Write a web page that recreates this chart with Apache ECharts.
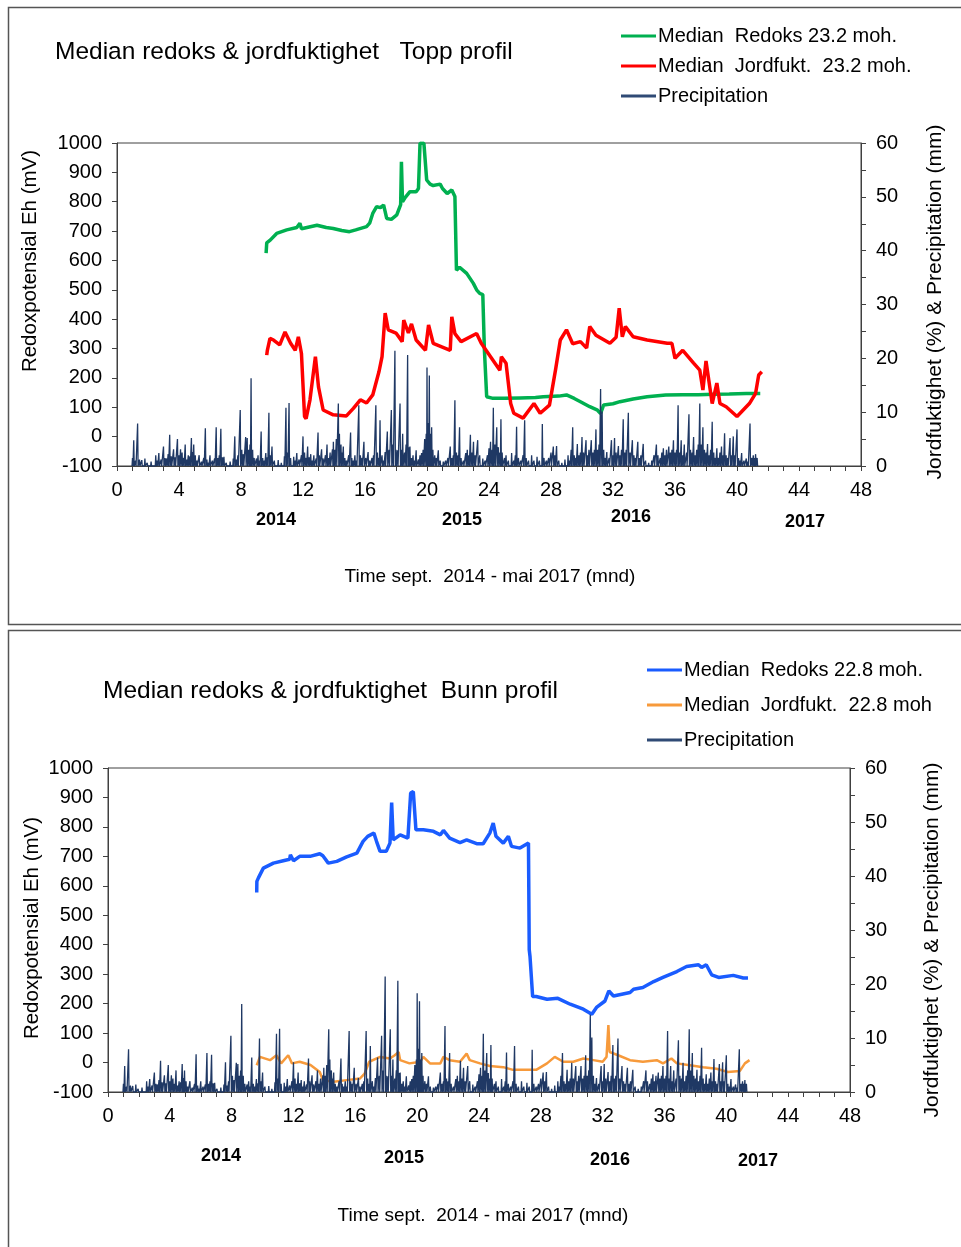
<!DOCTYPE html>
<html>
<head>
<meta charset="utf-8">
<script src="https://cdn.jsdelivr.net/npm/echarts@6/dist/echarts.min.js"></script>
<style>html,body{margin:0;padding:0;background:#fff}#c{width:961px;height:1247px}</style>
</head>
<body>
<div id="c"></div>
<script>
// ---- data (month, value) ----
const xTicks = [0,4,8,12,16,20,24,28,32,36,40,44,48];
const yearLabels = ['2014','2015','2016','2017'];

// Top profile: median redox (mV)
const redoxTop = [[9.62,625],[9.66,660],[9.9,670],[10.3,692],[10.95,704],[11.6,712],[11.8,727],[11.9,708],[12.0,712],[12.9,720],[13.5,712],[13.95,709],[14.5,702],[15.0,698],[15.4,704],[16.1,715],[16.3,727],[16.5,760],[16.75,783],[17.0,780],[17.2,789],[17.4,743],[17.7,740],[18.05,755],[18.3,790],[18.35,936],[18.42,800],[18.6,815],[18.9,834],[19.3,834],[19.45,845],[19.55,999],[19.8,999],[19.98,874],[20.2,860],[20.4,855],[20.85,860],[21.0,845],[21.3,828],[21.6,840],[21.8,818],[21.9,567],[22.1,577],[22.56,556],[22.99,522],[23.2,500],[23.4,488],[23.6,484],[23.7,300],[23.85,136],[24.2,131],[25.0,131],[26.0,132],[27.0,133],[27.5,136],[28.5,138],[29.0,142],[29.5,130],[29.9,119],[30.5,102],[31.0,90],[31.2,79],[31.4,108],[32.0,112],[32.45,119],[33.3,128],[34.2,136],[35.4,142],[36.5,143],[37.5,143],[38.5,144],[39.5,145],[40.6,147],[41.5,147]];
// Top profile: median soil moisture (%)
const moistTop = [[9.66,20.6],[9.7,21.5],[9.87,23.7],[10.1,23.4],[10.5,22.5],[10.84,24.9],[11.2,22.8],[11.5,21.5],[11.7,24.0],[11.9,20.9],[12.1,9.2],[12.2,8.8],[12.45,12.3],[12.8,20.3],[13.0,14.7],[13.3,10.4],[13.95,9.5],[14.8,9.3],[15.25,10.7],[15.7,12.3],[16.1,11.7],[16.5,13.2],[16.9,17.5],[17.1,20.3],[17.3,28.4],[17.5,25.3],[18.0,24.7],[18.4,23.1],[18.5,27.1],[18.8,24.7],[19.0,26.4],[19.3,23.4],[19.9,21.5],[20.1,26.2],[20.4,22.8],[21.5,21.5],[21.6,27.7],[21.8,24.6],[22.2,23.1],[23.2,24.6],[23.5,22.8],[24.1,20.3],[24.7,17.8],[24.8,20.3],[25.1,19.1],[25.4,11.6],[25.6,9.8],[26.2,8.9],[26.9,11.6],[27.3,9.8],[27.9,11.3],[28.3,18.0],[28.6,23.4],[29.0,25.3],[29.4,22.7],[29.9,23.1],[30.3,21.9],[30.5,25.9],[30.9,24.3],[31.8,22.8],[32.2,23.9],[32.4,29.3],[32.6,24.0],[32.8,25.9],[33.3,24.0],[34.2,23.4],[35.5,22.8],[35.8,22.8],[36.0,20.0],[36.5,21.5],[37.2,19.1],[37.6,17.8],[37.8,14.1],[38.0,19.5],[38.4,11.6],[38.7,15.4],[38.9,11.6],[39.3,11.0],[40.0,9.2],[40.4,10.4],[40.8,11.6],[41.2,13.5],[41.4,16.9],[41.6,17.5]];
// Bottom profile: median redox (mV)
const redoxBot = [[9.62,577],[9.63,615],[9.73,627],[10.05,660],[10.7,677],[11.34,685],[11.75,690],[11.8,705],[12.0,685],[12.4,700],[13.07,700],[13.7,709],[13.9,702],[14.25,677],[14.8,683],[15.44,698],[16.1,711],[16.5,751],[16.8,768],[17.2,779],[17.37,751],[17.6,717],[18.0,717],[18.24,745],[18.35,883],[18.45,756],[18.9,773],[19.4,762],[19.58,915],[19.75,920],[19.92,790],[20.4,790],[21.05,785],[21.5,773],[21.7,788],[22.1,762],[22.77,747],[23.2,756],[23.85,743],[24.27,743],[24.7,779],[24.92,813],[25.1,768],[25.57,745],[25.9,768],[26.1,734],[26.65,728],[27.2,745],[27.25,383],[27.3,360],[27.47,224],[27.7,224],[28.4,215],[29.1,218],[29.9,198],[30.75,181],[31.3,164],[31.6,187],[32.15,209],[32.4,243],[32.7,226],[33.77,238],[34.0,249],[34.6,255],[35.3,275],[35.9,289],[36.8,309],[37.43,326],[38.2,332],[38.4,323],[38.7,332],[39.05,298],[39.5,289],[40.45,296],[41.1,287],[41.4,287]];
// Bottom profile: median soil moisture (%)
const moistBot = [[9.62,4.95],[9.83,6.5],[10.48,5.9],[10.9,6.8],[11.2,5.3],[11.66,6.8],[11.9,5.3],[12.4,5.6],[13.1,5.0],[13.7,3.7],[13.9,2.2],[14.6,1.9],[15.44,2.2],[16.3,2.5],[16.6,3.4],[16.9,5.6],[17.6,6.5],[18.24,6.2],[18.55,6.8],[18.8,7.4],[18.9,5.9],[19.5,5.3],[20.2,5.6],[20.4,6.5],[20.83,5.3],[21.5,5.3],[21.7,6.5],[22.1,5.9],[22.77,5.6],[23.2,7.1],[23.4,5.9],[24.06,5.3],[24.7,4.8],[25.57,4.6],[26.2,4.1],[27.7,4.1],[28.4,5.3],[28.9,6.5],[29.45,5.6],[30.1,5.6],[30.75,6.2],[31.4,5.9],[32.0,5.6],[32.25,6.5],[32.37,12.4],[32.45,7.4],[33.0,6.8],[33.77,5.9],[34.6,5.6],[35.5,5.9],[35.9,5.3],[36.45,6.2],[36.8,5.3],[37.65,4.95],[38.5,4.6],[39.37,4.3],[40.1,3.7],[40.88,3.9],[41.2,5.3],[41.5,5.9]];
// Precipitation (mm), daily spikes (month, mm)
const precip = [[1.0,1.5],[1.08,4.8],[1.2,1.0],[1.33,7.9],[1.45,1.2],[1.6,1.1],[1.8,1.4],[1.95,0.6],[2.2,0.8],[2.5,2.0],[2.6,1.0],[2.7,2.4],[2.85,1.2],[3.0,3.6],[3.1,1.5],[3.2,1.4],[3.3,2.2],[3.4,5.8],[3.5,1.8],[3.65,3.1],[3.75,1.6],[3.9,5.0],[4.0,2.0],[4.1,3.1],[4.2,2.5],[4.3,1.5],[4.4,4.0],[4.5,1.2],[4.6,2.0],[4.7,1.8],[4.8,5.2],[4.87,2.6],[4.95,4.0],[5.05,2.0],[5.15,1.0],[5.3,2.0],[5.45,0.8],[5.6,1.5],[5.7,7.0],[5.8,1.2],[5.9,0.6],[6.0,2.0],[6.15,1.0],[6.3,1.4],[6.4,7.2],[6.5,1.5],[6.6,2.0],[6.7,6.9],[6.8,1.6],[6.9,1.7],[7.05,0.6],[7.3,0.8],[7.5,1.4],[7.6,5.5],[7.7,1.2],[7.8,2.0],[7.95,10.4],[8.05,3.0],[8.15,2.2],[8.3,5.4],[8.4,5.2],[8.5,3.0],[8.58,4.0],[8.65,16.3],[8.75,3.0],[8.85,1.5],[9.0,1.4],[9.1,2.0],[9.2,1.0],[9.3,6.4],[9.4,1.5],[9.5,1.0],[9.6,2.4],[9.7,1.6],[9.8,9.9],[9.9,2.0],[10.0,3.6],[10.15,1.0],[10.4,1.1],[10.6,0.6],[10.8,1.8],[10.9,10.8],[11.0,2.5],[11.1,11.7],[11.2,1.5],[11.4,1.7],[11.5,1.0],[11.6,2.4],[11.75,1.2],[11.9,2.0],[12.0,5.5],[12.1,2.5],[12.2,1.5],[12.3,3.6],[12.4,1.6],[12.5,2.2],[12.6,1.0],[12.7,2.0],[12.85,1.4],[12.97,6.2],[13.05,2.0],[13.2,3.1],[13.3,1.4],[13.45,2.0],[13.55,4.0],[13.65,1.5],[13.75,2.5],[13.9,3.1],[13.96,4.5],[14.05,3.0],[14.15,5.0],[14.28,11.6],[14.35,6.0],[14.45,4.0],[14.5,2.5],[14.6,3.6],[14.7,1.5],[14.8,1.0],[14.95,2.0],[15.07,6.2],[15.15,1.5],[15.25,1.0],[15.35,2.0],[15.45,1.0],[15.6,11.3],[15.7,2.0],[15.8,1.5],[15.93,4.5],[16.05,1.5],[16.2,2.6],[16.3,1.0],[16.45,1.5],[16.55,2.0],[16.7,11.3],[16.8,2.5],[16.9,1.5],[16.97,8.5],[17.1,2.0],[17.2,1.0],[17.3,2.6],[17.44,6.4],[17.55,3.0],[17.7,10.4],[17.8,4.0],[17.93,21.4],[18.0,3.0],[18.1,2.9],[18.26,11.6],[18.35,3.0],[18.43,6.0],[18.55,2.5],[18.65,4.0],[18.75,20.6],[18.82,3.5],[18.9,3.6],[19.0,1.5],[19.1,2.0],[19.2,1.0],[19.3,2.9],[19.45,1.2],[19.55,2.0],[19.65,2.4],[19.75,3.0],[19.85,5.0],[19.95,6.0],[20.0,18.3],[20.08,8.0],[20.15,16.8],[20.22,6.0],[20.3,7.2],[20.38,3.0],[20.5,2.0],[20.6,1.5],[20.73,2.9],[20.85,1.0],[21.05,0.8],[21.2,1.0],[21.35,1.5],[21.5,3.6],[21.6,1.5],[21.7,2.0],[21.8,12.2],[21.9,2.5],[22.0,2.0],[22.1,7.2],[22.2,1.5],[22.35,1.0],[22.5,2.4],[22.6,3.0],[22.7,2.0],[22.8,5.8],[22.9,2.5],[23.0,4.5],[23.1,2.0],[23.27,4.8],[23.4,2.0],[23.6,1.4],[23.75,1.0],[23.9,2.0],[24.0,3.3],[24.1,4.5],[24.2,3.0],[24.28,10.8],[24.38,4.0],[24.5,7.2],[24.6,3.5],[24.7,2.5],[24.77,8.7],[24.85,2.5],[25.0,1.5],[25.1,2.0],[25.25,1.0],[25.46,2.4],[25.6,1.0],[25.7,2.0],[25.78,7.3],[25.9,1.5],[26.05,1.0],[26.2,2.0],[26.3,8.5],[26.4,1.5],[26.55,1.0],[26.75,2.0],[26.9,1.0],[27.1,1.7],[27.25,1.0],[27.44,7.8],[27.55,1.5],[27.7,1.0],[27.85,1.5],[28.0,2.5],[28.15,3.6],[28.25,2.0],[28.36,3.7],[28.5,1.0],[28.7,0.6],[28.9,1.2],[29.1,2.0],[29.2,1.0],[29.3,3.0],[29.4,7.2],[29.5,2.0],[29.6,1.5],[29.7,4.1],[29.8,2.0],[29.9,2.5],[30.0,5.4],[30.1,2.5],[30.26,4.8],[30.35,2.0],[30.45,3.0],[30.6,4.8],[30.7,2.5],[30.8,3.0],[30.9,6.8],[31.0,3.0],[31.1,4.0],[31.2,14.3],[31.3,10.1],[31.4,3.0],[31.5,1.5],[31.6,2.6],[31.75,1.5],[31.9,4.8],[32.0,2.0],[32.1,5.2],[32.2,2.5],[32.35,3.7],[32.45,2.0],[32.55,3.0],[32.66,8.7],[32.75,2.5],[32.85,3.0],[32.99,9.9],[33.1,2.5],[33.25,4.8],[33.35,2.0],[33.45,1.5],[33.6,4.5],[33.7,1.5],[33.8,2.0],[33.95,4.1],[34.1,1.0],[34.3,0.6],[34.5,1.0],[34.65,2.0],[34.8,4.0],[34.9,2.0],[35.05,1.5],[35.15,2.5],[35.25,3.3],[35.35,2.0],[35.45,3.0],[35.6,3.6],[35.7,2.5],[35.8,3.0],[35.9,4.8],[36.0,2.5],[36.1,3.0],[36.2,11.3],[36.3,2.5],[36.4,4.8],[36.5,2.0],[36.6,4.0],[36.75,2.5],[36.9,9.6],[37.0,3.0],[37.1,2.5],[37.2,5.4],[37.3,2.0],[37.4,3.0],[37.5,4.0],[37.6,11.6],[37.7,4.0],[37.8,7.2],[37.9,3.0],[38.0,2.5],[38.1,4.1],[38.2,2.0],[38.3,3.0],[38.4,8.2],[38.5,2.5],[38.6,1.5],[38.7,3.3],[38.8,1.5],[38.9,2.5],[39.0,3.6],[39.1,2.0],[39.2,6.1],[39.3,2.0],[39.4,1.5],[39.55,5.2],[39.65,2.0],[39.76,5.5],[39.85,2.0],[40.0,6.8],[40.1,1.5],[40.2,1.0],[40.3,2.4],[40.45,1.0],[40.6,1.4],[40.7,0.8],[40.84,7.9],[40.95,1.5],[41.05,2.0],[41.12,1.5],[41.2,2.2],[41.3,1.5]];

// each daily value is drawn as a narrow spike rising from the zero line
function spikes(arr){
  const out=[];
  arr.forEach(([m,v])=>{ out.push([m-0.03,0],[m,v],[m+0.03,0]); });
  return out;
}

const FF='"Liberation Sans", Arial, sans-serif';
const AX='#404040';
function xAxisFor(g){
  return {type:'value',gridIndex:g,min:0,max:48,interval:4,
    axisLine:{show:true,onZero:false,lineStyle:{color:AX,width:1}},
    axisTick:{show:true,inside:false,length:5,lineStyle:{color:AX}},
    minorTick:{show:true,splitNumber:4,length:5,lineStyle:{color:AX}},
    axisLabel:{color:'#000',fontSize:20,fontFamily:FF,margin:14,formatter:v=>String(v)},
    splitLine:{show:false},minorSplitLine:{show:false}};
}
function yLeft(g){
  return {type:'value',gridIndex:g,position:'left',min:-100,max:1000,interval:100,
    axisLine:{show:true,onZero:false,lineStyle:{color:AX,width:1}},
    axisTick:{show:true,inside:false,length:5,lineStyle:{color:AX}},
    axisLabel:{color:'#000',fontSize:20,fontFamily:FF,margin:15,formatter:v=>String(v)},
    splitLine:{show:false}};
}
function yRight(g){
  return {type:'value',gridIndex:g,position:'right',min:0,max:60,interval:10,
    axisLine:{show:true,onZero:false,lineStyle:{color:AX,width:1}},
    axisTick:{show:true,inside:false,length:5,lineStyle:{color:AX}},
    minorTick:{show:true,splitNumber:2,length:5,lineStyle:{color:AX}},
    axisLabel:{color:'#000',fontSize:20,fontFamily:FF,margin:15,formatter:v=>String(v)},
    splitLine:{show:false},minorSplitLine:{show:false}};
}
function lineSeries(name,data,xi,yi,color,width){
  return {type:'line',name,data,xAxisIndex:xi,yAxisIndex:yi,showSymbol:false,symbol:'none',
    lineStyle:{color,width},itemStyle:{color},smooth:false,animation:false};
}
function txt(text,x,y,size,opts){
  opts=opts||{};
  return {type:'text',x,y,rotation:opts.rot||0,silent:true,
    style:{text,font:(opts.bold?'bold ':'')+size+'px '+FF,fill:'#000',
      textAlign:opts.align||'center',textVerticalAlign:'middle'}};
}

const chart = echarts.init(document.getElementById('c'),null,{renderer:'canvas'});
chart.setOption({
  backgroundColor:'#fff',
  animation:false,
  grid:[
    {left:117,top:143,width:744,height:323,show:true,borderColor:AX,borderWidth:1,backgroundColor:'transparent',containLabel:false,outerBoundsMode:'none'},
    {left:108,top:768,width:742,height:324,show:true,borderColor:AX,borderWidth:1,backgroundColor:'transparent',containLabel:false,outerBoundsMode:'none'}
  ],
  xAxis:[xAxisFor(0),xAxisFor(1)],
  yAxis:[yLeft(0),yRight(0),yLeft(1),yRight(1)],
  legend:[
    {orient:'vertical',left:621,top:26,padding:0,itemGap:10,itemWidth:35,itemHeight:3,icon:'rect',
     selectedMode:false,textStyle:{fontSize:20,color:'#000',fontFamily:FF,padding:[0,0,0,-3]},
     data:['Median  Redoks 23.2 moh.','Median  Jordfukt.  23.2 moh.',{name:'Precipitation',itemStyle:{color:'#2f4a75'}}]},
    {orient:'vertical',left:647,top:660,padding:0,itemGap:15,itemWidth:35,itemHeight:3,icon:'rect',
     selectedMode:false,textStyle:{fontSize:20,color:'#000',fontFamily:FF,padding:[0,0,0,-3]},
     data:['Median  Redoks 22.8 moh.','Median  Jordfukt.  22.8 moh',{name:'Precipitation ',itemStyle:{color:'#2f4a75'}}]}
  ],
  series:[
    lineSeries('Median  Redoks 23.2 moh.',redoxTop,0,0,'#00b050',3.5),
    lineSeries('Median  Jordfukt.  23.2 moh.',moistTop,0,1,'#ff0000',3.5),
    lineSeries('Precipitation',spikes(precip),0,1,'#1f3864',1.3),
    lineSeries('Median  Redoks 22.8 moh.',redoxBot,1,2,'#1a5cff',3.5),
    lineSeries('Median  Jordfukt.  22.8 moh',moistBot,1,3,'#f79a3b',2.5),
    lineSeries('Precipitation ',spikes(precip),1,3,'#1f3864',1.3)
  ],
  graphic:[
    {type:'rect',shape:{x:8.5,y:7.5,width:960,height:617},style:{fill:'none',stroke:'#555',lineWidth:1.5},silent:true},
    {type:'rect',shape:{x:8.5,y:630.5,width:960,height:630},style:{fill:'none',stroke:'#555',lineWidth:1.5},silent:true},
    txt('Median redoks & jordfuktighet   Topp profil',55,52,24.5,{align:'left'}),
    txt('Median redoks & jordfuktighet  Bunn profil',103,691,24.5,{align:'left'}),
    txt('Redoxpotensial Eh (mV)',30,261,20.5,{rot:Math.PI/2}),
    txt('Jordfuktighet (%) & Precipitation (mm)',935,302,21,{rot:Math.PI/2}),
    txt('Redoxpotensial Eh (mV)',32,928,20.5,{rot:Math.PI/2}),
    txt('Jordfuktighet (%) & Precipitation (mm)',932,940,21,{rot:Math.PI/2}),
    txt('Time sept.  2014 - mai 2017 (mnd)',490,577,19),
    txt('Time sept.  2014 - mai 2017 (mnd)',483,1216,19),
    txt(yearLabels[0],276,520,18,{bold:true}),
    txt(yearLabels[1],462,520,18,{bold:true}),
    txt(yearLabels[2],631,517,18,{bold:true}),
    txt(yearLabels[3],805,522,18,{bold:true}),
    txt(yearLabels[0],221,1156,18,{bold:true}),
    txt(yearLabels[1],404,1158,18,{bold:true}),
    txt(yearLabels[2],610,1160,18,{bold:true}),
    txt(yearLabels[3],758,1161,18,{bold:true})
  ]
});
</script>
</body>
</html>
